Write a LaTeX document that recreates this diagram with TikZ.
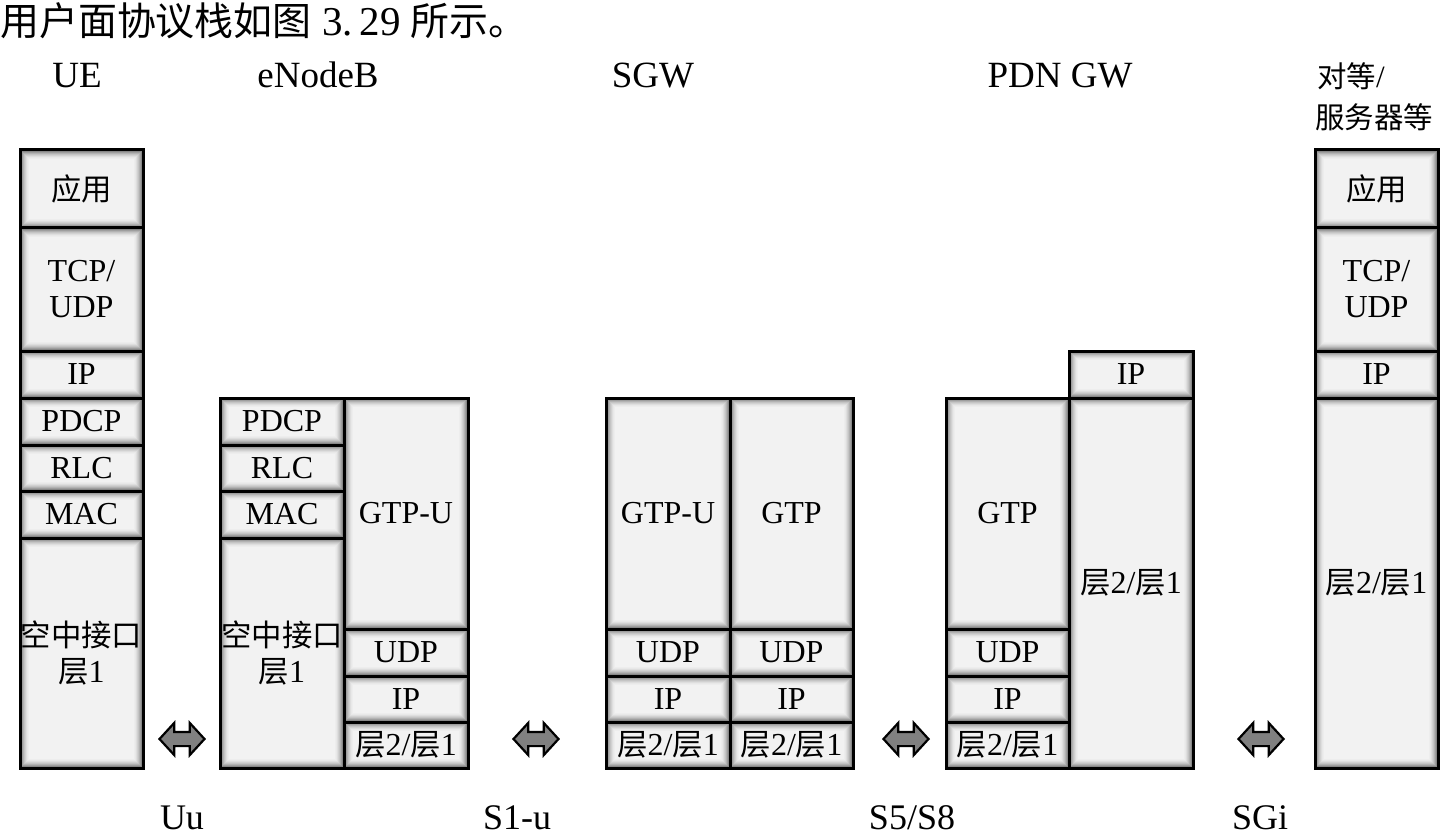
\documentclass[tikz,border=0pt]{standalone}
\usepackage{fontspec}
\setmainfont{Liberation Serif}
\newfontfamily\cjk[Scale=0.95]{Noto Sans CJK SC}
\usetikzlibrary{shapes.arrows}
\tikzset{
  layer/.style={draw=black,line width=3pt,inner sep=0pt,align=center,
    font=\fontsize{32}{36}\selectfont},
  head/.style={font=\fontsize{37}{40}\selectfont,anchor=base},
  iface/.style={font=\fontsize{36}{40}\selectfont,anchor=base},
  link/.style={double arrow,draw=black,fill=black!50,line width=2.2pt,
    minimum height=45pt,minimum width=0pt,inner xsep=0pt,inner ysep=6pt,
    double arrow head extend=9pt,double arrow tip angle=95}
}
\newcommand\lay[6]{%
  \foreach \i in {0,...,10}{%
    \pgfmathtruncatemacro\sh{5+52*(1-\i/10)^2}%
    \fill[black!\sh] ({#2+\i},{#3+\i}) rectangle ({#4-\i},{#5-\i});
  }%
  \node[layer,minimum width={(#4-#2)*1pt},minimum height={(#5-#3)*1pt}] (#1) at ({(#2+#4)/2},{(#3+#5)/2}) {#6};
}
\newcommand\Lc{{\cjk 层}2/{\cjk 层}1}
\begin{document}
\begin{tikzpicture}[x=1pt,y=-1pt]
\fill[white] (0,0) rectangle (1441,837);
\useasboundingbox (0,0) rectangle (1441,837);
% intro line
\node[anchor=base west,inner sep=0pt,font=\fontsize{41}{44}\selectfont] (intro) at (0,36)
  {{\cjk 用户面协议栈如图} 3.\,29 {\cjk 所示。}};
% headers
\node[head] (hUE) at (77,88) {UE};
\node[head] (hEN) at (318,88) {eNodeB};
\node[head] (hSG) at (653,88) {SGW};
\node[head] (hPG) at (1060,88) {PDN GW};
\node[anchor=base west,inner sep=0pt,font=\fontsize{31}{34}\selectfont] (hSV1) at (1317,88) {{\cjk 对等}/};
\node[anchor=base west,inner sep=0pt,font=\fontsize{31}{34}\selectfont] (hSV2) at (1315,129) {\cjk 服务器等};
% UE
\lay{ue1}{20}{150}{143}{228}{{\cjk 应用}}
\lay{ue2}{20}{228}{143}{351}{TCP/\\UDP}
\lay{ue3}{20}{351}{143}{398}{IP}
\lay{ue4}{20}{398}{143}{445}{PDCP}
\lay{ue5}{20}{445}{143}{491}{RLC}
\lay{ue6}{20}{491}{143}{538}{MAC}
\lay{ue7}{20}{538}{143}{768}{{\cjk 空中接口}\\{\cjk 层}1}
% eNodeB
\lay{en1}{220}{398}{344}{445}{PDCP}
\lay{en2}{220}{445}{344}{491}{RLC}
\lay{en3}{220}{491}{344}{538}{MAC}
\lay{en4}{220}{538}{344}{768}{{\cjk 空中接口}\\{\cjk 层}1}
\lay{en5}{344}{398}{468}{629}{GTP-U}
\lay{en6}{344}{629}{468}{676}{UDP}
\lay{en7}{344}{676}{468}{722}{IP}
\lay{en8}{344}{722}{468}{768}{\Lc}
% SGW
\lay{sg1}{606}{398}{730}{629}{GTP-U}
\lay{sg2}{606}{629}{730}{676}{UDP}
\lay{sg3}{606}{676}{730}{722}{IP}
\lay{sg4}{606}{722}{730}{768}{\Lc}
\lay{sg5}{730}{398}{853}{629}{GTP}
\lay{sg6}{730}{629}{853}{676}{UDP}
\lay{sg7}{730}{676}{853}{722}{IP}
\lay{sg8}{730}{722}{853}{768}{\Lc}
% PDN GW
\lay{pg1}{946}{398}{1069}{629}{GTP}
\lay{pg2}{946}{629}{1069}{676}{UDP}
\lay{pg3}{946}{676}{1069}{722}{IP}
\lay{pg4}{946}{722}{1069}{768}{\Lc}
\lay{pg5}{1069}{351}{1193}{398}{IP}
\lay{pg6}{1069}{398}{1193}{768}{\Lc}
% server
\lay{sv1}{1315}{150}{1438}{228}{{\cjk 应用}}
\lay{sv2}{1315}{228}{1438}{351}{TCP/\\UDP}
\lay{sv3}{1315}{351}{1438}{398}{IP}
\lay{sv4}{1315}{398}{1438}{768}{\Lc}
% interface arrows
\node[link] (aUu) at (182,739) {};
\node[link] (aS1) at (536,739) {};
\node[link] (aS5) at (906,739) {};
\node[link] (aSG) at (1261,739) {};
% interface labels
\node[iface] (lUu) at (182,829) {Uu};
\node[iface] (lS1) at (517,829) {S1-u};
\node[iface] (lS5) at (912,829) {S5/S8};
\node[iface] (lSG) at (1260,829) {SGi};
\end{tikzpicture}
\end{document}
